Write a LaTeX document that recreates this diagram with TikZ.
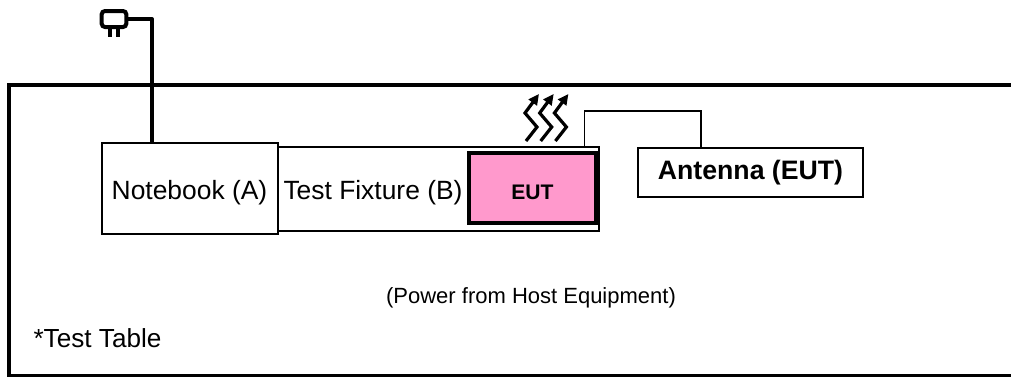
\documentclass[tikz,border=0pt]{standalone}
\usepackage{fontspec}
\setmainfont{Liberation Sans}
\usetikzlibrary{arrows.meta}

\definecolor{eutpink}{RGB}{255,153,204}
\tikzset{
	box/.style={draw, line width=1.1pt, inner sep=0pt},
	wire/.style={line width=3pt, line join=round},
	prong/.style={line width=3pt},
	heat/.style={line width=2.4pt, -{Triangle[length=8pt, width=7.5pt]}},
}

\begin{document}
\begin{tikzpicture}[x=0.75pt, y=-0.75pt]
				\useasboundingbox (0, 0) rectangle (1011, 376);
				\draw[line width=3pt] (9, 84.5) rectangle (1040, 376);
				\node[box, minimum width=240.75pt, minimum height=63pt] (fixture) at (438.5, 189) {};
				\node[box, minimum width=132pt, minimum height=68.25pt, fill=white] (notebook) at (190, 188.5) {};
				\node[inner sep=0pt, font=\fontsize{19.8}{24}\selectfont] (notebooktext) at (189.5, 193) {Notebook (A)};
				\node[inner sep=0pt, font=\fontsize{19.8}{24}\selectfont] (fixturetext) at (373, 193) {Test Fixture (B)};
				\node[draw, line width=3pt, fill=eutpink, inner sep=0pt, minimum width=95.6pt, minimum height=52.5pt] (eut) at (532.5, 188) {};
				\node[inner sep=0pt, font=\fontsize{15.8}{19}\selectfont\bfseries] (euttext) at (532.5, 192) {EUT};
				\node[box, minimum width=168.75pt, minimum height=36.75pt, font=\fontsize{20}{24}\selectfont\bfseries] (antenna) at (750.5, 172.5) {Antenna (EUT)};
				\node[inner sep=0pt, font=\fontsize{16.5}{20}\selectfont] (power) at (531, 298) {(Power from Host Equipment)};
				\node[inner sep=0pt, font=\fontsize{19.6}{24}\selectfont] (table) at (97.5, 338) {*Test Table};
				% plug
				\node[draw, line width=3pt, rounded corners=2.5pt, inner sep=0pt, minimum width=18.5pt, minimum height=12pt] (plug) at (114, 19) {};
				\draw[prong] (plug.south) ++(-4, 0) -- ++(0, 8);
				\draw[prong] (plug.south) ++(4, 0) -- ++(0, 8);
				\coordinate (notebooktap) at (152, 143);
				\draw[wire] (plug.east) -| (notebooktap);
				% link to antenna
				\coordinate (fixturetap) at (584.5, 147);
				\coordinate (antennatap) at (701, 148);
				\draw[line width=1.1pt] (fixturetap) -- ++(0, -36) -| (antennatap);
				% heat
				\foreach \i in {0, 1, 2} {
					\draw[heat] (526 + 14.7*\i, 141) -- (537 + 14.7*\i, 127) -- (525 + 14.7*\i, 113) -- (539 + 14.7*\i, 94);
				}
			\end{tikzpicture}
\end{document}
